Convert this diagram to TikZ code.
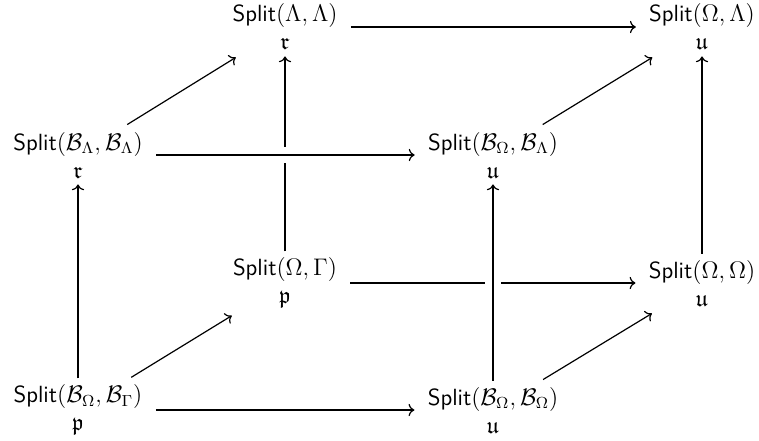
\documentclass[tikz,border=0pt]{standalone}
\usepackage{amssymb}
\usetikzlibrary{arrows.meta}
\begin{document}
\begin{tikzpicture}[
  obj/.style={align=center, inner sep=3pt, font=\fontsize{11.7}{14}\selectfont},
  arr/.style={->, line width=0.6pt, shorten >=3.5pt, shorten <=3.5pt},
  varr/.style={->, line width=0.6pt},
  darr/.style={->, line width=0.6pt, shorten >=1pt, shorten <=1pt},
  over/.style={preaction={draw=white, line width=8pt, -}}
]
\useasboundingbox (0,0) rectangle (379.5pt,220pt);
\node[obj] (LL)   at (142.5pt,206.5pt) {\textsf{Split}$(\Lambda,\Lambda)$\\$\mathfrak{r}$};
\node[obj] (OL)   at (351pt,206.5pt) {\textsf{Split}$(\Omega,\Lambda)$\\$\mathfrak{u}$};
\node[obj] (BLBL) at (39pt,142.5pt) {\textsf{Split}$(\mathcal{B}_\Lambda,\mathcal{B}_\Lambda)$\\$\mathfrak{r}$};
\node[obj] (BOBL) at (246.5pt,142.5pt) {\textsf{Split}$(\mathcal{B}_\Omega,\mathcal{B}_\Lambda)$\\$\mathfrak{u}$};
\node[obj] (OG)   at (142.5pt,78.5pt) {\textsf{Split}$(\Omega,\Gamma)$\\$\mathfrak{p}$};
\node[obj] (OO)   at (351pt,78.5pt) {\textsf{Split}$(\Omega,\Omega)$\\$\mathfrak{u}$};
\node[obj] (BOBG) at (39pt,15pt) {\textsf{Split}$(\mathcal{B}_\Omega,\mathcal{B}_\Gamma)$\\$\mathfrak{p}$};
\node[obj] (BOBO) at (246.5pt,15pt) {\textsf{Split}$(\mathcal{B}_\Omega,\mathcal{B}_\Omega)$\\$\mathfrak{u}$};
% back face
\draw[varr] (OG) -- (LL);
\draw[arr] (OG) -- (OO);
\draw[arr] (LL) -- (OL);
\draw[varr] (OO) -- (OL);
% diagonals
\draw[darr] (BLBL) -- (LL);
\draw[darr] (BOBL) -- (OL);
\draw[darr] (BOBG) -- (OG);
\draw[darr] (BOBO) -- (OO);
% front face
\draw[varr] (BOBG) -- (BLBL);
\draw[arr] (BOBG) -- (BOBO);
\draw[arr, over] (BLBL) -- (BOBL);
\draw[varr, over] (BOBO) -- (BOBL);
\end{tikzpicture}
\end{document}
